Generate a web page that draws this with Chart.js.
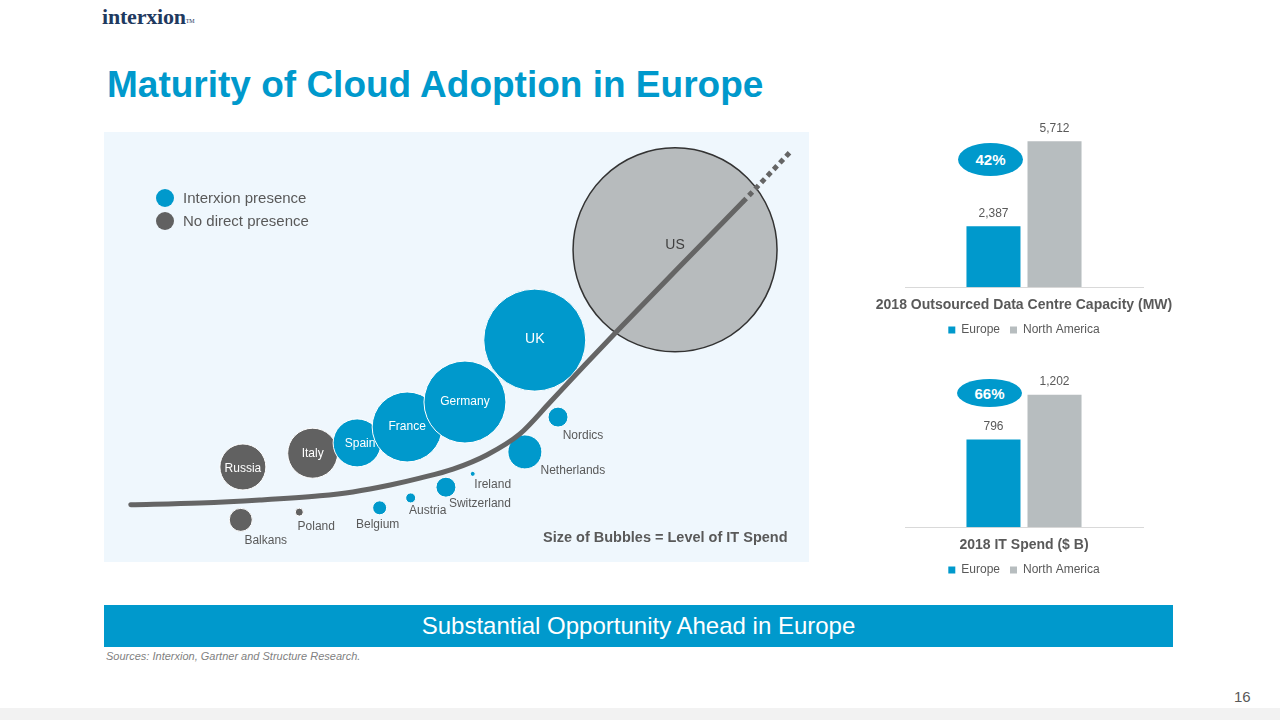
<!DOCTYPE html>
<html><head><meta charset="utf-8">
<script src="https://cdn.jsdelivr.net/npm/chart.js@4.4.1/dist/chart.umd.min.js"></script>
<style>
html,body{margin:0;padding:0;}
body{width:1280px;height:720px;position:relative;overflow:hidden;background:#fff;font-family:"Liberation Sans",Arial,sans-serif;}
.abs{position:absolute;white-space:nowrap;}
#logo{left:102px;top:6px;font-family:"Liberation Serif","DejaVu Serif",serif;font-weight:bold;font-size:22px;line-height:22px;color:#1F3A60;letter-spacing:-0.2px;}
#logo sup{font-size:6px;font-weight:normal;vertical-align:top;position:relative;top:4px;}
#title{left:107px;top:66px;font-size:37px;line-height:37px;font-weight:bold;color:#0099CC;}
#panel{left:104px;top:132px;width:705px;height:430px;background:#EFF7FD;}
#bubbles{left:104px;top:132px;}
.dot{width:18px;height:18px;border-radius:50%;}
.lg{font-size:15px;line-height:18px;color:#595959;}
#sizeNote{left:543px;top:528px;font-size:14.5px;line-height:18px;font-weight:bold;color:#595959;}
#bar1{left:874px;top:110px;}
#bar2{left:874px;top:360px;}
.share{background:#0099CC;color:#fff;border-radius:50%;display:flex;align-items:center;justify-content:center;font-weight:bold;font-size:15px;}
#banner{left:104px;top:605px;width:1069px;height:42px;background:#0099CC;color:#fff;font-size:24px;display:flex;align-items:center;justify-content:center;}
#sources{left:106px;top:650px;font-size:11px;line-height:13px;font-style:italic;color:#7F7F7F;}
#page{left:1234px;top:688px;font-size:15px;line-height:18px;color:#595959;}
#strip{left:0;top:708px;width:1280px;height:12px;background:#F2F2F2;}
</style>
</head>
<body>
<div id="logo" class="abs">interxion<sup>TM</sup></div>
<div id="title" class="abs">Maturity of Cloud Adoption in Europe</div>
<div id="panel" class="abs"></div>
<canvas id="bubbles" class="abs" width="705" height="430"></canvas>
<div class="abs dot" style="left:156px;top:189px;background:#0099CC;"></div>
<div class="abs lg" style="left:183px;top:189px;">Interxion presence</div>
<div class="abs dot" style="left:156px;top:212px;background:#616161;"></div>
<div class="abs lg" style="left:183px;top:212px;">No direct presence</div>
<div id="sizeNote" class="abs">Size of Bubbles = Level of IT Spend</div>
<canvas id="bar1" class="abs" width="300" height="236"></canvas>
<canvas id="bar2" class="abs" width="300" height="226"></canvas>
<div id="share1" class="abs share" style="left:958px;top:143px;width:65px;height:33px;"></div>
<div id="share2" class="abs share" style="left:957px;top:379px;width:65px;height:28px;"></div>
<div id="banner" class="abs">Substantial Opportunity Ahead in Europe</div>
<div id="sources" class="abs">Sources: Interxion, Gartner and Structure Research.</div>
<div id="page" class="abs">16</div>
<div id="strip" class="abs"></div>
<script>
// ---- Bubble chart data ----
const countries        = ['US','Russia','Italy','Balkans','Poland','UK','Spain','France','Germany','Belgium','Austria','Switzerland','Ireland','Netherlands','Nordics'];
const cloudMaturity    = [81.0, 19.7, 29.6, 19.4, 27.7, 61.1, 35.9, 43.0, 51.2, 39.1, 43.5, 48.5, 52.3, 59.7, 64.4];
const adoptionLevel    = [72.6, 22.1, 25.3,  9.8, 11.6, 51.6, 27.7, 31.4, 37.2, 12.6, 14.9, 17.4, 20.5, 25.6, 33.7];
const itSpendSize      = [102,  23,   25,   11.5, 4,    51,   24,   35,   41,   7,    5,    10,   2.5,  17,   10];
const interxionPresent = [false,false,false,false,false,true, true, true, true, true, true, true, true, true, true];

const curveX = [3.8, 13.6, 22.1, 30.6, 35.3, 40.6, 44.8, 49.5, 54.3, 59.0, 63.3, 68.2, 73.2, 81.7, 90.6];
const curveY = [13.3, 13.7, 14.4, 15.4, 16.3, 17.9, 19.5, 21.6, 24.9, 29.8, 37.2, 45.8, 54.4, 68.8, 83.7];
const trendX = [90.6, 97.3];
const trendY = [83.7, 95.3];

// ---- Bar chart data ----
const barSeries   = ['Europe', 'North America'];
const capacityMW  = [2387, 5712];
const itSpendB    = [796, 1202];
const europeShare = ['42%', '66%'];

// ---- styles ----
const BLUE = '#0099CC', DARK = '#616161', US_GRAY = '#B7BBBD', LINE = '#656565', TEXT = '#595959';
const FONT = '"Liberation Sans", Arial, sans-serif';
Chart.defaults.font.family = FONT;

const labelOffsets = {US:[0,-5], UK:[0,-1], Spain:[3,1], Russia:[0,2], Balkans:[25,21], Poland:[17,15], Belgium:[-2,17], Austria:[17,13], Switzerland:[34,17], Ireland:[20,11], Netherlands:[48,19], Nordics:[25,19]};
const insideColor = {US:'#404040', UK:'#fff', Germany:'#fff', France:'#fff', Spain:'#fff', Italy:'#fff', Russia:'#fff'};

const bubbleLabels = {
  id: 'bubbleLabels',
  afterDatasetsDraw(chart) {
    const ctx = chart.ctx;
    chart.data.datasets.forEach((ds, di) => {
      if (ds.type === 'line') return;
      chart.getDatasetMeta(di).data.forEach((el, i) => {
        const name = ds.data[i].name;
        const off = labelOffsets[name] || [0, 0];
        ctx.save();
        ctx.font = ((name === 'US' || name === 'UK') ? '14px ' : '12px ') + FONT;
        ctx.fillStyle = insideColor[name] || TEXT;
        ctx.textAlign = 'center';
        ctx.textBaseline = 'middle';
        ctx.fillText(name, el.x + off[0], el.y + off[1]);
        ctx.restore();
      });
    });
  }
};

function points(flag) {
  return countries.map((c, i) => ({x: cloudMaturity[i], y: adoptionLevel[i], r: itSpendSize[i], name: c}))
                  .filter((p, i) => interxionPresent[i] === flag);
}

new Chart(document.getElementById('bubbles'), {
  type: 'bubble',
  data: {
    datasets: [
      {type: 'line', label: 'Adoption curve', data: curveX.map((x, i) => ({x, y: curveY[i]})),
       borderColor: LINE, borderWidth: 5, pointRadius: 0, cubicInterpolationMode: 'monotone',
       borderCapStyle: 'round', borderJoinStyle: 'round', fill: false, order: 0},
      {type: 'line', label: 'Trend', data: trendX.map((x, i) => ({x, y: trendY[i]})),
       borderColor: LINE, borderWidth: 5, borderDash: [5, 4], pointRadius: 0, fill: false, order: 0},
      {label: 'Interxion presence', data: points(true), backgroundColor: BLUE, borderColor: '#FFFFFF', borderWidth: 1, order: 1},
      {label: 'No direct presence', data: points(false),
       backgroundColor: c => (c.raw && c.raw.name === 'US') ? US_GRAY : DARK,
       borderColor: c => (c.raw && c.raw.name === 'US') ? '#333333' : '#FFFFFF',
       borderWidth: c => (c.raw && c.raw.name === 'US') ? 1.5 : 1, order: 2}
    ]
  },
  options: {
    responsive: false, animation: false, events: [], clip: false,
    layout: {padding: 0, autoPadding: false},
    scales: {x: {type: 'linear', display: false, min: 0, max: 100},
             y: {type: 'linear', display: false, min: 0, max: 100}},
    plugins: {legend: {display: false}, tooltip: {enabled: false}}
  },
  plugins: [bubbleLabels]
});

const valueLabels = {
  id: 'valueLabels',
  afterDatasetsDraw(chart) {
    const ctx = chart.ctx;
    chart.data.datasets.forEach((ds, di) => {
      chart.getDatasetMeta(di).data.forEach((el, i) => {
        ctx.save();
        ctx.font = '12px ' + FONT;
        ctx.fillStyle = TEXT;
        ctx.textAlign = 'center';
        ctx.textBaseline = 'middle';
        ctx.fillText(ds.data[i].toLocaleString('en-US'), el.x, el.y - 13);
        ctx.restore();
      });
    });
  }
};

const barColors = [BLUE, '#B7BDBF'];
const sideAxis = (pos) => ({display: true, position: pos, ticks: {display: false}, grid: {display: false, drawTicks: false},
                            border: {display: false}, afterFit: s => { s.width = 31; }});
function barChart(id, values, title, max) {
  new Chart(document.getElementById(id), {
    type: 'bar',
    data: {labels: [''], datasets: barSeries.map((s, i) => ({label: s, data: [values[i]], backgroundColor: barColors[i],
                                                          barPercentage: 0.885, categoryPercentage: 0.513}))},
    options: {
      responsive: false, animation: false, events: [],
      layout: {padding: {top: 24, left: 0, right: 0, bottom: 0}},
      scales: {
        x: {display: true, grid: {display: false, drawTicks: false}, ticks: {display: false},
            border: {display: true, color: '#D9D9D9', width: 1}},
        y: Object.assign(sideAxis('left'), {min: 0, max: max}),
        y2: Object.assign(sideAxis('right'), {min: 0, max: max})
      },
      plugins: {
        legend: {position: 'bottom', labels: {boxWidth: 7, boxHeight: 7, padding: 10, color: TEXT, font: {size: 12}}},
        title: {display: true, text: title, position: 'bottom', weight: 500, padding: {top: 10, bottom: 0},
                color: TEXT, font: {size: 14, weight: 'bold'}},
        tooltip: {enabled: false}
      }
    },
    plugins: [valueLabels]
  });
}
barChart('bar1', capacityMW, '2018 Outsourced Data Centre Capacity (MW)', 6000);
barChart('bar2', itSpendB, '2018 IT Spend ($ B)', 1300);
document.getElementById('share1').textContent = europeShare[0];
document.getElementById('share2').textContent = europeShare[1];
</script>
</body></html>
